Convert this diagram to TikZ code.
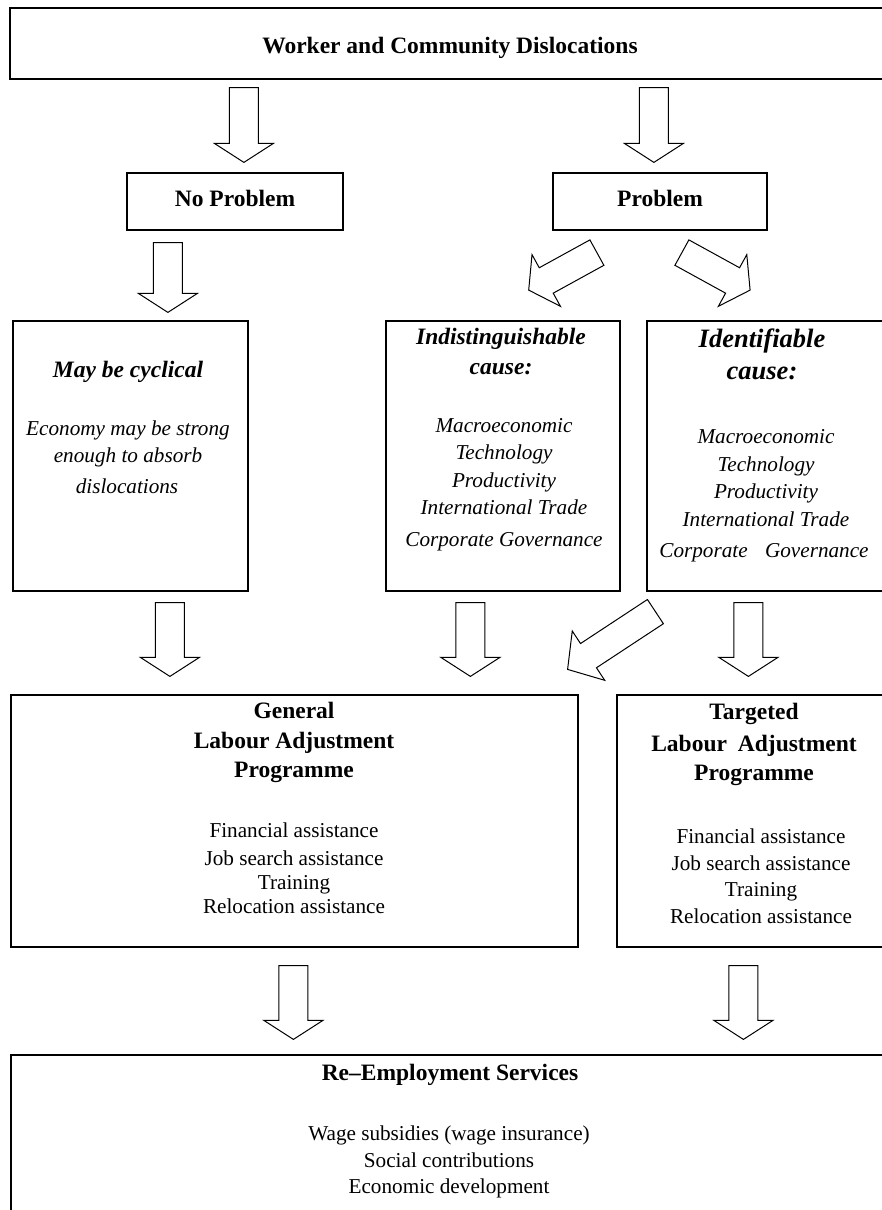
\documentclass[tikz,border=0pt]{standalone}
\usepackage{fontspec}
\setmainfont{Liberation Serif}
\usetikzlibrary{calc}
\newcommand{\blockarrow}[3]{%
  \coordinate (bah) at ($(#2)!#3!(#1)$);
  \draw[barr] ($(#1)!14.5pt!90:(#2)$) -- ($(bah)!14.5pt!-90:(#1)$) -- ($(bah)!29.5pt!-90:(#1)$) -- (#2) -- ($(bah)!29.5pt!90:(#1)$) -- ($(bah)!14.5pt!90:(#1)$) -- ($(#1)!14.5pt!-90:(#2)$) -- cycle;
}
\begin{document}
\begin{tikzpicture}[x=1pt,y=-1pt,
  box/.style={draw, line width=1.2pt, inner sep=0pt, rectangle},
  barr/.style={draw, line width=1pt, fill=white, line join=miter},
  ttl/.style={font=\fontsize{23.5}{28}\selectfont\bfseries, anchor=base, inner sep=0pt},
  bttl/.style={font=\fontsize{23.5}{28}\selectfont\bfseries\itshape, anchor=base, inner sep=0pt},
  bigttl/.style={font=\fontsize{26.5}{30}\selectfont\bfseries\itshape, anchor=base, inner sep=0pt},
  bdy/.style={font=\fontsize{21.2}{26}\selectfont, anchor=base, inner sep=0pt},
  ibdy/.style={font=\fontsize{21.2}{26}\selectfont\itshape, anchor=base, inner sep=0pt},
]
\useasboundingbox (0,0) rectangle (882,1210);
\clip (0,0) rectangle (882,1210);

% boxes
\node[box, minimum width=881pt, minimum height=71pt] (top) at (450.5,43.5) {};
\node[box, minimum width=216pt, minimum height=57pt] (nop) at (235,201.5) {};
\node[box, minimum width=214pt, minimum height=57pt] (prob) at (660,201.5) {};
\node[box, minimum width=235pt, minimum height=270pt] (cyc) at (130.5,456) {};
\node[box, minimum width=234pt, minimum height=270pt] (indist) at (503,456) {};
\node[box, minimum width=244pt, minimum height=270pt] (ident) at (769,456) {};
\node[box, minimum width=567pt, minimum height=252pt] (gen) at (294.5,821) {};
\node[box, minimum width=274pt, minimum height=252pt] (targ) at (754,821) {};
\node[box, minimum width=880pt, minimum height=190pt] (reemp) at (451,1150) {};

% texts
\node[ttl] (ttop) at (450,53) {Worker and Community Dislocations};
\node[ttl] (tnop) at (235,206) {No Problem};
\node[ttl] (tprob) at (660,206) {Problem};

\node[bttl] (tcyc) at (128,377) {May be cyclical};
\node[ibdy] (cyc1) at (128,435) {Economy may be strong};
\node[ibdy] (cyc2) at (128,462) {enough to absorb};
\node[ibdy] (cyc3) at (127,493) {dislocations};

\node[bttl] (tind1) at (501,344) {Indistinguishable};
\node[bttl] (tind2) at (501,374) {cause:};
\node[ibdy] (ind1) at (504,432) {Macroeconomic};
\node[ibdy] (ind2) at (504,459) {Technology};
\node[ibdy] (ind3) at (504,487) {Productivity};
\node[ibdy] (ind4) at (504,514) {International Trade};
\node[ibdy] (ind5) at (504,546) {Corporate Governance};

\node[bigttl] (tid1) at (762,347) {Identifiable};
\node[bigttl] (tid2) at (762,379) {cause:};
\node[ibdy] (id1) at (766,443) {Macroeconomic};
\node[ibdy] (id2) at (766,471) {Technology};
\node[ibdy] (id3) at (766,498) {Productivity};
\node[ibdy] (id4) at (766,526) {International Trade};
\node[ibdy] (id5) at (764,557) {Corporate\hspace{12pt} Governance};

\node[ttl] (tgen1) at (294,718) {General};
\node[ttl] (tgen2) at (294,748) {Labour Adjustment};
\node[ttl] (tgen3) at (294,777) {Programme};
\node[bdy] (gen1) at (294,837) {Financial assistance};
\node[bdy] (gen2) at (294,865) {Job search assistance};
\node[bdy] (gen3) at (294,889) {Training};
\node[bdy] (gen4) at (294,913) {Relocation assistance};

\node[ttl] (ttg1) at (754,719) {Targeted};
\node[ttl] (ttg2) at (754,751) {Labour\hspace{5pt} Adjustment};
\node[ttl] (ttg3) at (754,780) {Programme};
\node[bdy] (tg1) at (761,843) {Financial assistance};
\node[bdy] (tg2) at (761,870) {Job search assistance};
\node[bdy] (tg3) at (761,896) {Training};
\node[bdy] (tg4) at (761,923) {Relocation assistance};

\node[ttl] (tre) at (450,1080) {Re–Employment Services};
\node[bdy] (re1) at (449,1140) {Wage subsidies (wage insurance)};
\node[bdy] (re2) at (449,1167) {Social contributions};
\node[bdy] (re3) at (449,1193) {Economic development};

% arrow end points
\coordinate (a1s) at ($(top.south west)+(234.5,8)$);
\coordinate (a1t) at ($(nop.north west)+(117.5,-10)$);
\coordinate (a2s) at ($(top.south west)+(644.5,8)$);
\coordinate (a2t) at ($(prob.north west)+(101.5,-10)$);
\coordinate (a3s) at ($(nop.south west)+(41.5,12)$);
\coordinate (a3t) at ($(cyc.north west)+(155.5,-8)$);
\coordinate (a4s) at ($(prob.south west)+(44.5,22)$);
\coordinate (a4t) at ($(indist.north west)+(143.3,-30.3)$);
\coordinate (a5s) at ($(prob.south west)+(129.5,22)$);
\coordinate (a5t) at ($(ident.north west)+(103.7,-30.3)$);
\coordinate (a6s) at ($(cyc.south west)+(157.5,11)$);
\coordinate (a6t) at ($(gen.north west)+(159.5,-18)$);
\coordinate (a7s) at ($(indist.south west)+(85,11)$);
\coordinate (a7t) at ($(gen.north west)+(460,-18)$);
\coordinate (a8s) at ($(ident.south west)+(9,20)$);
\coordinate (a8t) at ($(gen.north east)+(-11,-25)$);
\coordinate (a9s) at ($(ident.south west)+(102,11)$);
\coordinate (a9t) at ($(targ.north west)+(132,-18)$);
\coordinate (a10s) at ($(gen.south west)+(283,18)$);
\coordinate (a10t) at ($(reemp.north west)+(283,-15)$);
\coordinate (a11s) at ($(targ.south west)+(127,18)$);
\coordinate (a11t) at ($(reemp.north west)+(733,-15)$);

\blockarrow{a1s}{a1t}{19pt}
\blockarrow{a2s}{a2t}{19pt}
\blockarrow{a3s}{a3t}{19pt}
\blockarrow{a4s}{a4t}{20pt}
\blockarrow{a5s}{a5t}{20pt}
\blockarrow{a6s}{a6t}{19pt}
\blockarrow{a7s}{a7t}{19pt}
\blockarrow{a8s}{a8t}{25pt}
\blockarrow{a9s}{a9t}{19pt}
\blockarrow{a10s}{a10t}{19pt}
\blockarrow{a11s}{a11t}{19pt}
\end{tikzpicture}
\end{document}
